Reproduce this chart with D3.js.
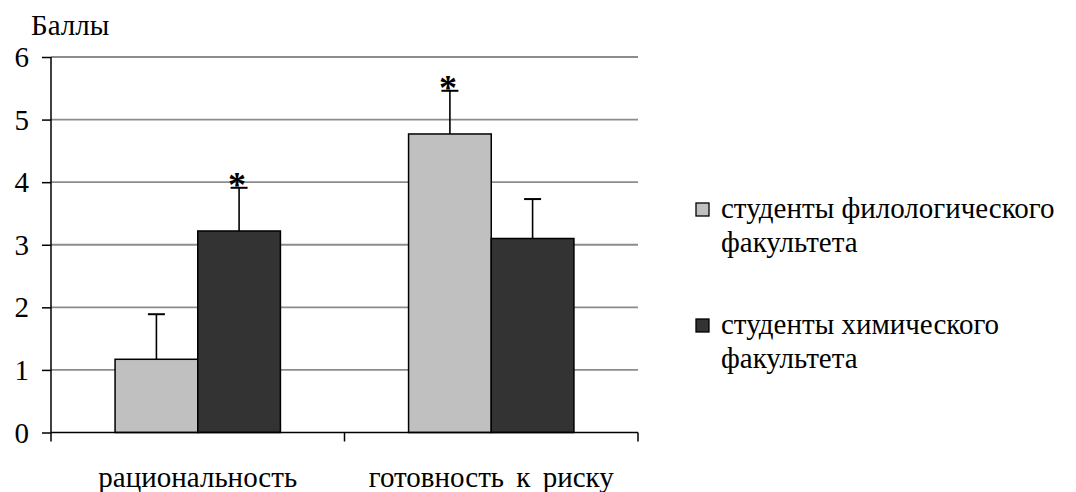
<!DOCTYPE html>
<html><head><meta charset="utf-8">
<script src="https://cdn.jsdelivr.net/npm/d3@7"></script>
<style>body{margin:0;background:#fff}svg{display:block}</style>
</head><body><svg id="c" width="1076" height="492"></svg>
<script>
const categories = ["рациональность", "готовность к риску"];
const seriesNames = [["студенты филологического", "факультета"], ["студенты химического", "факультета"]];
const meansPhil = [1.17, 4.77];
const errPhil = [0.72, 0.69];
const meansChem = [3.22, 3.10];
const errChem = [0.69, 0.63];
const sigPhil = [false, true];
const sigChem = [true, false];
const yTicks = [0, 1, 2, 3, 4, 5, 6];
const yLabel = "Баллы";
const colors = ["#c0c0c0", "#333333"];

const FF = "Liberation Serif";
const FS = 29;
const svg = d3.select("#c").attr("font-family", FF);
const x0 = 51, x1 = 638, yB = 432.5, yT = 57;
const x = d3.scaleBand().domain(categories).range([x0, x1]).paddingInner(0).paddingOuter(0);
const y = d3.scaleLinear().domain([0, 6]).range([yB, yT]);
const xs = d3.scaleBand().domain([0, 1]).range([0, x.bandwidth()]).paddingInner(0).paddingOuter(0.775);

// gridlines
svg.append("g").selectAll("line").data(yTicks.filter(d => d > 0)).join("line")
  .attr("x1", x0).attr("x2", x1).attr("y1", d => y(d)).attr("y2", d => y(d))
  .attr("stroke", "#8c8c8c").attr("stroke-width", 1.8);

// y axis
const ya = svg.append("g").attr("transform", `translate(${x0},0)`)
  .call(d3.axisLeft(y).tickValues(yTicks).tickSize(9).tickPadding(13).tickFormat(d3.format("d")));
ya.attr("font-family", FF).attr("font-size", FS);
ya.select(".domain").remove();
ya.selectAll(".tick line").attr("stroke", "#000").attr("stroke-width", 1.5);
ya.selectAll(".tick text").attr("font-family", FF).attr("font-size", FS).attr("fill", "#000").attr("dy", "0.33em");
svg.append("line").attr("x1", x0).attr("x2", x0).attr("y1", yT).attr("y2", yB).attr("stroke", "#000").attr("stroke-width", 1.5);

// bars
const data = [];
categories.forEach((c, i) => {
  data.push({c, s: 0, v: meansPhil[i], e: errPhil[i], sig: sigPhil[i]});
  data.push({c, s: 1, v: meansChem[i], e: errChem[i], sig: sigChem[i]});
});
const bx = d => x(d.c) + xs(d.s);
const cx = d => bx(d) + xs.bandwidth() / 2;

// error bars
const eg = svg.append("g");
eg.selectAll("line.v").data(data).join("line").attr("class", "v")
  .attr("x1", cx).attr("x2", cx).attr("y1", d => y(d.v)).attr("y2", d => y(d.v + d.e))
  .attr("stroke", "#000").attr("stroke-width", 1.6);
eg.selectAll("line.h").data(data).join("line").attr("class", "h")
  .attr("x1", d => cx(d) - 8.5).attr("x2", d => cx(d) + 8.5).attr("y1", d => y(d.v + d.e)).attr("y2", d => y(d.v + d.e))
  .attr("stroke", "#000").attr("stroke-width", 2);

svg.append("g").selectAll("rect").data(data).join("rect")
  .attr("x", bx).attr("width", xs.bandwidth())
  .attr("y", d => y(d.v)).attr("height", d => yB - y(d.v))
  .attr("fill", d => colors[d.s]).attr("stroke", "#000").attr("stroke-width", 1.5);

// significance stars
svg.append("g").selectAll("text").data(data.filter(d => d.sig)).join("text")
  .attr("x", d => cx(d) - 2).attr("y", d => y(d.v + d.e) + 9)
  .attr("text-anchor", "middle").attr("font-family", FF).attr("font-size", 36).attr("font-weight", "bold").text("*");

// x axis
const xa = svg.append("g").attr("transform", `translate(0,${yB})`);
xa.append("line").attr("x1", x0).attr("x2", x1).attr("stroke", "#000").attr("stroke-width", 1.5);
const xEdges = [x0, ...categories.map(c => x(c) + x.bandwidth())];
xa.selectAll("line.t").data(xEdges).join("line").attr("class", "t")
  .attr("x1", d => d).attr("x2", d => d).attr("y1", 0).attr("y2", 9).attr("stroke", "#000").attr("stroke-width", 1.5);
xa.selectAll("text").data(categories).join("text")
  .attr("x", d => x(d) + x.bandwidth() / 2).attr("y", 54)
  .attr("text-anchor", "middle").attr("font-family", FF).attr("font-size", FS)
  .attr("word-spacing", 5).text(d => d);

// y label
svg.append("text").attr("x", 31).attr("y", 35).attr("font-family", FF).attr("font-size", FS).text(yLabel);

// legend
const lg = svg.append("g");
const legY = [218, 334];
seriesNames.forEach((lines, i) => {
  lg.append("rect").attr("x", 696).attr("y", legY[i] - 15).attr("width", 13).attr("height", 13)
    .attr("fill", colors[i]).attr("stroke", "#000").attr("stroke-width", 1.3);
  lines.forEach((t, j) => {
    lg.append("text").attr("x", 721).attr("y", legY[i] + j * 34).attr("font-family", FF).attr("font-size", FS).text(t);
  });
});
</script></body></html>
